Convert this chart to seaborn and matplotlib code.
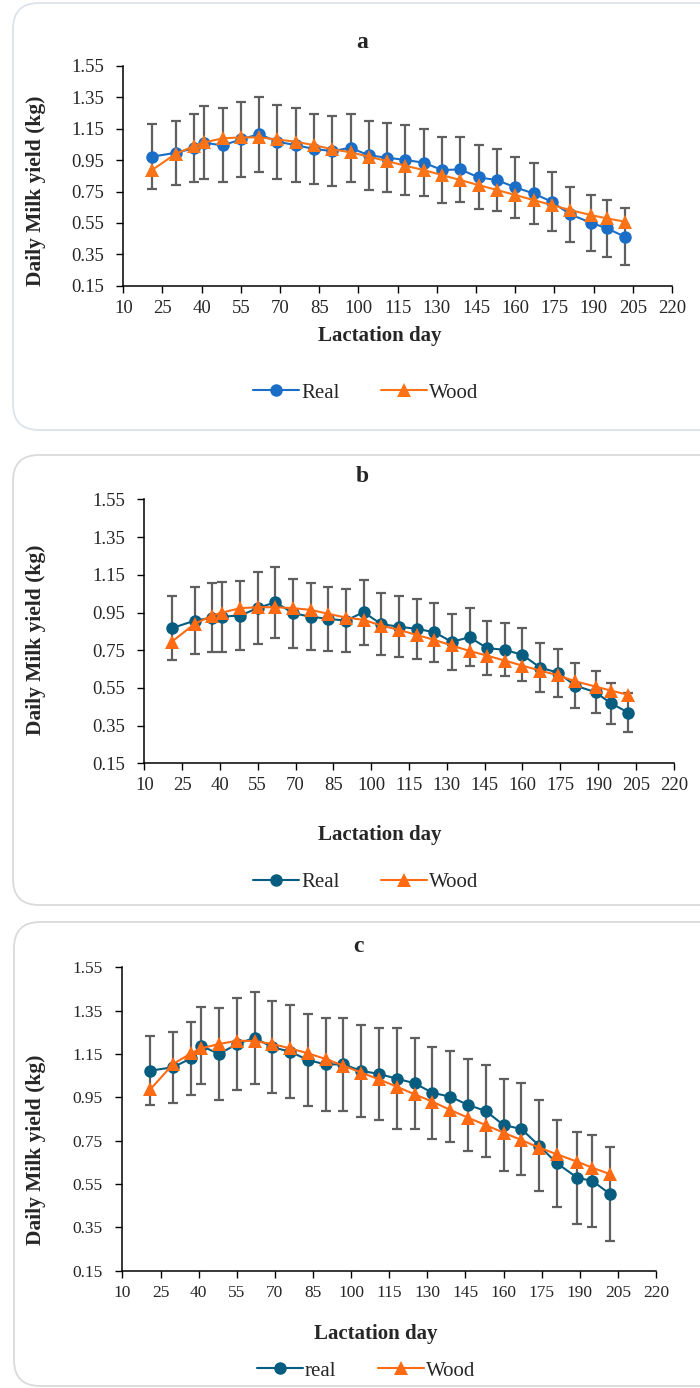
import matplotlib.pyplot as plt
import seaborn as sns
from matplotlib.patches import FancyBboxPatch
from matplotlib.transforms import IdentityTransform

# lactation days (same sampling for all three panels)
days = [21, 30, 37, 41, 48, 55, 62, 69, 76, 83, 90, 97, 104, 111,
        118, 125, 132, 139, 146, 153, 160, 167, 174, 181, 189, 195, 202]

# panel a
real_a = [0.972, 0.997, 1.025, 1.061, 1.044, 1.082, 1.116, 1.067, 1.046, 1.021,
          1.008, 1.029, 0.980, 0.966, 0.951, 0.934, 0.887, 0.891, 0.840, 0.823,
          0.777, 0.738, 0.685, 0.605, 0.551, 0.516, 0.462]
wood_a = [0.887, 0.990, 1.040, 1.063, 1.089, 1.095, 1.095, 1.082, 1.067, 1.046,
          1.019, 1.000, 0.972, 0.944, 0.914, 0.887, 0.855, 0.823, 0.791, 0.760,
          0.728, 0.696, 0.664, 0.632, 0.600, 0.579, 0.558]
sd_a = [0.207, 0.204, 0.217, 0.234, 0.236, 0.238, 0.239, 0.237, 0.237, 0.226,
        0.225, 0.217, 0.218, 0.219, 0.225, 0.212, 0.211, 0.205, 0.204, 0.198,
        0.193, 0.196, 0.188, 0.177, 0.180, 0.180, 0.180]

# panel b
real_b = [0.867, 0.907, 0.923, 0.928, 0.934, 0.973, 1.005, 0.946, 0.928, 0.916,
          0.907, 0.952, 0.888, 0.875, 0.863, 0.846, 0.794, 0.819, 0.761, 0.752,
          0.725, 0.658, 0.631, 0.562, 0.527, 0.469, 0.419]
wood_b = [0.796, 0.890, 0.934, 0.950, 0.973, 0.978, 0.978, 0.973, 0.964, 0.943,
          0.923, 0.911, 0.881, 0.858, 0.831, 0.805, 0.775, 0.746, 0.721, 0.695,
          0.668, 0.642, 0.617, 0.585, 0.557, 0.536, 0.513]
sd_b = [0.171, 0.177, 0.185, 0.185, 0.185, 0.191, 0.188, 0.182, 0.179, 0.170,
        0.168, 0.173, 0.165, 0.163, 0.161, 0.157, 0.150, 0.155, 0.144, 0.141,
        0.141, 0.131, 0.128, 0.119, 0.112, 0.108, 0.102]

# panel c
real_c = [1.073, 1.089, 1.130, 1.188, 1.150, 1.195, 1.225, 1.181, 1.161, 1.122,
          1.102, 1.102, 1.072, 1.058, 1.036, 1.015, 0.971, 0.953, 0.915, 0.887,
          0.822, 0.804, 0.727, 0.646, 0.579, 0.564, 0.503]
wood_c = [0.987, 1.104, 1.153, 1.176, 1.196, 1.211, 1.210, 1.196, 1.176, 1.153,
          1.127, 1.096, 1.064, 1.033, 0.999, 0.964, 0.930, 0.892, 0.856, 0.822,
          0.787, 0.753, 0.718, 0.687, 0.653, 0.625, 0.595]
sd_c = [0.160, 0.163, 0.169, 0.177, 0.212, 0.213, 0.213, 0.212, 0.213, 0.213,
        0.213, 0.213, 0.212, 0.213, 0.234, 0.211, 0.211, 0.211, 0.213, 0.212,
        0.213, 0.212, 0.211, 0.200, 0.213, 0.214, 0.217]

titles = ['a', 'b', 'c']
real_labels = ['Real', 'Real', 'real']
wood_label = 'Wood'
x_ticks = list(range(10, 221, 15))
y_ticks = [0.15, 0.35, 0.55, 0.75, 0.95, 1.15, 1.35, 1.55]

sns.set_style('ticks')
plt.rcParams['font.family'] = ['Liberation Serif', 'DejaVu Serif']

W, H = 700, 1388
fig = plt.figure(figsize=(W / 100, H / 100), dpi=100)

# pixel layout: box (x0, top, bottom), axes (left, right, top, bottom), title, legend, label spots
panels = [
    dict(real=real_a, wood=wood_a, sd=sd_a, c_real='#1b6ec8', c_wood='#fb7317',
         box=(13, 3, 430), ax=(123.3, 672, 66, 285.7), tx=362, ty=42,
         lx=366, ly=393, xl=336, yl=0.43, border='#dde3ea', fs=13.5),
    dict(real=real_b, wood=wood_b, sd=sd_b, c_real='#065d80', c_wood='#ff6a13',
         box=(13, 455, 905), ax=(144.3, 673.7, 499.4, 763.3), tx=362, ty=476,
         lx=366, ly=882, xl=835, yl=0.47, border='#dadada', fs=13.5),
    dict(real=real_c, wood=wood_c, sd=sd_c, c_real='#065d80', c_wood='#ff6a13',
         box=(14, 922, 1386), ax=(122.4, 656, 967.3, 1270.7), tx=358, ty=946,
         lx=366, ly=1371, xl=1334, yl=0.40, border='#dadada', fs=12.5),
]

for i, p in enumerate(panels):
    x0, top, bottom = p['box']
    box = FancyBboxPatch((x0, H - bottom), 720, bottom - top,
                         boxstyle='round,pad=0,rounding_size=26',
                         transform=IdentityTransform(), facecolor='none',
                         edgecolor=p['border'], linewidth=1.3)
    fig.add_artist(box)

    left, right, atop, abottom = p['ax']
    ax = fig.add_axes([left / W, 1 - abottom / H, (right - left) / W, (abottom - atop) / H])

    ax.errorbar(days, p['real'], yerr=p['sd'], fmt='none', ecolor='#5f5f5f',
                elinewidth=1.6, capsize=3.4, capthick=1.6, zorder=1)
    sns.lineplot(x=days, y=p['real'], ax=ax, color=p['c_real'], marker='o',
                 markersize=9, markeredgewidth=0, linewidth=1.5, label=real_labels[i],
                 sort=False, zorder=3)
    sns.lineplot(x=days, y=p['wood'], ax=ax, color=p['c_wood'], marker='^',
                 markersize=9.5, markeredgewidth=0, linewidth=1.5, label=wood_label,
                 sort=False, zorder=4)

    ax.set_xlim(10, 220)
    ax.set_ylim(0.15, 1.55)
    ax.set_xticks(x_ticks)
    ax.set_yticks(y_ticks)
    ax.set_yticklabels([f'{v:.2f}' for v in y_ticks])
    ax.tick_params(axis='both', direction='out', length=5, width=1, color='black',
                   labelsize=p['fs'])
    ax.tick_params(axis='x', pad=5)
    ax.tick_params(axis='y', pad=9)
    for s in ['top', 'right']:
        ax.spines[s].set_visible(False)
    for s in ['left', 'bottom']:
        ax.spines[s].set_color('black')
        ax.spines[s].set_linewidth(1.1)

    ax.set_xlabel('Lactation day', fontsize=15, fontweight='bold')
    ax.xaxis.set_label_coords((p['tx'] + 18 - left) / (right - left),
                              (abottom - p['xl']) / (abottom - atop))
    ax.xaxis.label.set_va('center')
    ax.set_ylabel('Daily Milk yield (kg)', fontsize=15.5, fontweight='bold')
    ax.yaxis.set_label_coords((36 - left) / (right - left), p['yl'])
    ax.yaxis.label.set_va('center')

    fig.text(p['tx'] / W, 1 - p['ty'] / H, titles[i], ha='center', va='center',
             fontsize=17, fontweight='bold')

    handles, labels = ax.get_legend_handles_labels()
    ax.legend(handles, labels, loc='center', bbox_to_anchor=(p['lx'] / W, 1 - p['ly'] / H),
              bbox_transform=fig.transFigure, ncol=2, frameon=False, fontsize=15,
              handlelength=2.2, handletextpad=0.1, columnspacing=2.0)

fig.savefig('out.png', dpi=100, facecolor='white')
